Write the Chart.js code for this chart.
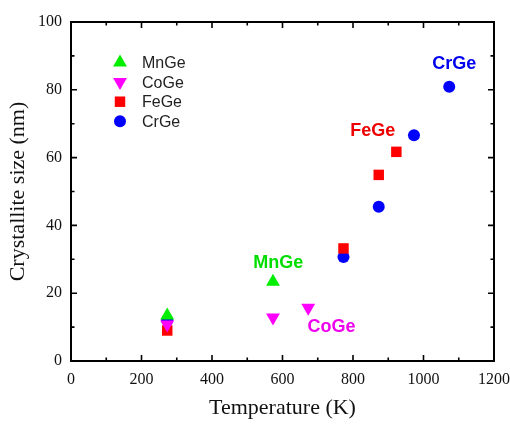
<!DOCTYPE html>
<html>
<head>
<meta charset="utf-8">
<script src="https://cdn.jsdelivr.net/npm/chart.js@4.4.0/dist/chart.umd.min.js"></script>
<style>
  html, body { margin: 0; padding: 0; background: #fff; }
  #wrap { width: 510px; height: 424px; }
</style>
</head>
<body>
<div id="wrap"><canvas id="chart" width="510" height="424"></canvas></div>
<script>
// series data (temperature K, crystallite size nm)
const mnGeT = [273, 573];
const mnGeSize = [13.4, 23.4];
const coGeT = [273, 573, 673];
const coGeSize = [10.8, 12.8, 15.7];
const feGeT = [273, 773, 873, 923];
const feGeSize = [9.0, 33.2, 54.9, 61.7];
const crGeT = [273, 773, 873, 973, 1073];
const crGeSize = [12.0, 30.7, 45.5, 66.6, 80.9];

const seriesNames = ['MnGe', 'CoGe', 'FeGe', 'CrGe'];
const seriesColors = ['#00ee00', '#ff00ff', '#ff0000', '#0000ff'];

// in-plot labels (data coordinates)
const noteText = ['MnGe', 'CoGe', 'FeGe', 'CrGe'];
const noteT = [588, 739, 856, 1087];
const noteSize = [29.0, 10.0, 67.7, 87.7];
const noteColors = ['#00dd00', '#ee00ee', '#ee0000', '#0000ee'];

const xTicks = [0, 200, 400, 600, 800, 1000, 1200];
const yTicks = [0, 20, 40, 60, 80, 100];

function pts(xs, ys) { return xs.map((x, i) => ({ x: x, y: ys[i] })); }

const styles = [
    { pointStyle: 'triangle', radius: 8, rotation: 0 },
    { pointStyle: 'triangle', radius: 8, rotation: 180 },
    { pointStyle: 'rect', radius: 7.4, rotation: 0 },
    { pointStyle: 'circle', radius: 6, rotation: 0 }
];
const allData = [pts(mnGeT, mnGeSize), pts(coGeT, coGeSize), pts(feGeT, feGeSize), pts(crGeT, crGeSize)];

const datasets = seriesNames.map((name, i) => ({
    label: name,
    data: allData[i],
    showLine: false,
    pointStyle: styles[i].pointStyle,
    pointRadius: styles[i].radius,
    pointHoverRadius: styles[i].radius,
    rotation: styles[i].rotation,
    pointRotation: styles[i].rotation,
    backgroundColor: seriesColors[i],
    borderColor: seriesColors[i],
    borderWidth: 0
}));

// frame, inward ticks, legend and text notes
const decorPlugin = {
    id: 'decor',
    beforeDatasetsDraw(chart) {
        const { ctx, chartArea: a, scales: { x, y } } = chart;
        ctx.save();
        ctx.strokeStyle = '#000';
        ctx.lineWidth = 1.6;
        ctx.beginPath();
        xTicks.forEach((v, i) => {
            const px = x.getPixelForValue(v);
            ctx.moveTo(px, a.bottom); ctx.lineTo(px, a.bottom - 6);
            ctx.moveTo(px, a.top); ctx.lineTo(px, a.top + 6);
            if (i < xTicks.length - 1) {
                const mx = x.getPixelForValue((v + xTicks[i + 1]) / 2);
                ctx.moveTo(mx, a.bottom); ctx.lineTo(mx, a.bottom - 3.5);
                ctx.moveTo(mx, a.top); ctx.lineTo(mx, a.top + 3.5);
            }
        });
        yTicks.forEach((v, i) => {
            const py = y.getPixelForValue(v);
            ctx.moveTo(a.left, py); ctx.lineTo(a.left + 6, py);
            ctx.moveTo(a.right, py); ctx.lineTo(a.right - 6, py);
            if (i < yTicks.length - 1) {
                const my = y.getPixelForValue((v + yTicks[i + 1]) / 2);
                ctx.moveTo(a.left, my); ctx.lineTo(a.left + 3.5, my);
                ctx.moveTo(a.right, my); ctx.lineTo(a.right - 3.5, my);
            }
        });
        ctx.stroke();
        ctx.lineWidth = 2;
        ctx.strokeRect(a.left, a.top, a.right - a.left, a.bottom - a.top);
        ctx.restore();
    },
    afterDatasetsDraw(chart) {
        const { ctx, scales: { x, y } } = chart;
        ctx.save();
        // legend inside plot
        ctx.font = '16px "Liberation Sans", Arial, sans-serif';
        ctx.textBaseline = 'middle';
        ctx.textAlign = 'left';
        seriesNames.forEach((name, i) => {
            const cy = 62.5 + i * 19.6;
            ctx.fillStyle = seriesColors[i];
            ctx.strokeStyle = seriesColors[i];
            Chart.helpers.drawPoint(ctx, {
                pointStyle: styles[i].pointStyle,
                rotation: styles[i].rotation,
                radius: styles[i].radius,
                borderWidth: 0
            }, 120, cy);
            ctx.fillStyle = '#222';
            ctx.fillText(name, 142, cy + 1);
        });
        // notes
        ctx.font = 'bold 18px "Liberation Sans", Arial, sans-serif';
        ctx.textAlign = 'center';
        noteText.forEach((t, i) => {
            ctx.fillStyle = noteColors[i];
            ctx.fillText(t, x.getPixelForValue(noteT[i]), y.getPixelForValue(noteSize[i]));
        });
        ctx.restore();
    }
};

new Chart(document.getElementById('chart'), {
    type: 'scatter',
    data: { datasets: datasets },
    options: {
        responsive: false,
        animation: false,
        layout: { padding: { top: 22, right: 16, left: 0, bottom: 0 } },
        plugins: { legend: { display: false }, tooltip: { enabled: false } },
        scales: {
            x: {
                type: 'linear', min: 0, max: 1200,
                afterFit: (s) => { s.height = 63; s.paddingLeft = 0; s.paddingRight = 0; },
                afterBuildTicks: (s) => { s.ticks = xTicks.map(v => ({ value: v })); },
                grid: { display: false, drawTicks: false },
                border: { display: false },
                ticks: { padding: 9, color: '#111', maxRotation: 0, callback: (v) => String(v),
                    font: { family: '"Liberation Serif", "Times New Roman", serif', size: 16 } },
                title: { display: true, text: 'Temperature (K)', color: '#111', padding: { bottom: 3 },
                    font: { family: '"Liberation Serif", "Times New Roman", serif', size: 22 } }
            },
            y: {
                type: 'linear', min: 0, max: 100,
                afterFit: (s) => { s.width = 71; s.paddingTop = 0; s.paddingBottom = 0; },
                afterBuildTicks: (s) => { s.ticks = yTicks.map(v => ({ value: v })); },
                grid: { display: false, drawTicks: false },
                border: { display: false },
                ticks: { padding: 9, color: '#111', callback: (v) => String(v),
                    font: { family: '"Liberation Serif", "Times New Roman", serif', size: 16 } },
                title: { display: true, text: 'Crystallite size (nm)', color: '#111', padding: { top: 5 },
                    font: { family: '"Liberation Serif", "Times New Roman", serif', size: 22 } }
            }
        }
    },
    plugins: [decorPlugin]
});
</script>
</body>
</html>
